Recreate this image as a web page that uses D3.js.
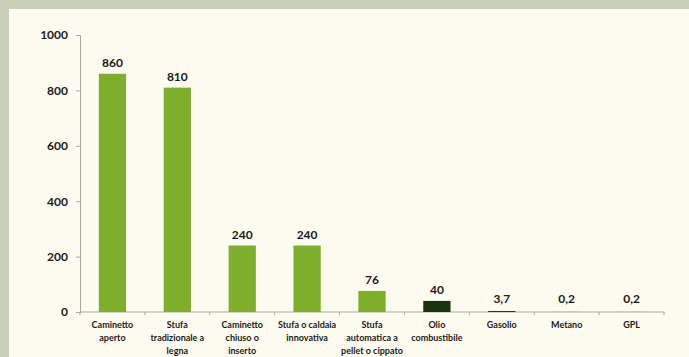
<!DOCTYPE html>
<html>
<head>
<meta charset="utf-8">
<script src="https://cdn.jsdelivr.net/npm/d3@7"></script>
<style>
  html, body { margin: 0; padding: 0; background: #c9d0b9; }
  svg { display: block; }
  text { font-family: Lato, "DejaVu Sans", sans-serif; }
</style>
</head>
<body>
<figure id="chart" style="margin:0"></figure>
<script>
// data
const categories = [
  ["Caminetto", "aperto"],
  ["Stufa", "tradizionale a", "legna"],
  ["Caminetto", "chiuso o", "inserto"],
  ["Stufa o caldaia", "innovativa"],
  ["Stufa", "automatica a", "pellet o cippato"],
  ["Olio", "combustibile"],
  ["Gasolio"],
  ["Metano"],
  ["GPL"]
];
const values = [860, 810, 240, 240, 76, 40, 3.7, 0.2, 0.2];
const valueLabels = ["860", "810", "240", "240", "76", "40", "3,7", "0,2", "0,2"];
const barColors = ["#7fae2c", "#7fae2c", "#7fae2c", "#7fae2c", "#7fae2c", "#1b3311", "#2a3a1c", "#2a3a1c", "#2a3a1c"];
const yTicks = [0, 200, 400, 600, 800, 1000];

const W = 689, H = 357;
const plotLeft = 80, plotRight = 664, plotTop = 35, plotBottom = 312;

const svg = d3.select("#chart")
  .append("svg")
  .attr("width", W)
  .attr("height", H);

// panel background (border shows round top/left)
svg.append("rect")
  .attr("x", 9).attr("y", 9)
  .attr("width", W - 9).attr("height", H - 9)
  .attr("fill", "#fdfbef");

const idx = values.map((d, i) => i);

const x = d3.scaleBand()
  .domain(idx)
  .range([plotLeft, plotRight])
  .paddingInner(0.58)
  .paddingOuter(0.29);

const y = d3.scaleLinear()
  .domain([0, 1000])
  .range([plotBottom, plotTop]);

// y axis
const yAxis = svg.append("g")
  .attr("transform", "translate(" + plotLeft + ",0)")
  .call(d3.axisLeft(y).tickValues(yTicks).tickFormat(d3.format("d")).tickSize(4).tickPadding(8));
yAxis.select(".domain").attr("stroke", "#a9a9a0");
yAxis.selectAll(".tick line").attr("stroke", "#a9a9a0");
yAxis.selectAll("text")
  .attr("fill", "#1a1a1a")
  .style("font-size", "12px")
  .style("font-weight", "bold");

// x axis: ticks at category boundaries
const bounds = d3.range(values.length + 1).map(i => plotLeft + i * x.step());
svg.append("line")
  .attr("x1", plotLeft).attr("x2", plotRight)
  .attr("y1", plotBottom).attr("y2", plotBottom)
  .attr("stroke", "#a9a9a0");
svg.selectAll(".xtick")
  .data(bounds)
  .enter()
  .append("line")
  .attr("x1", d => d).attr("x2", d => d)
  .attr("y1", plotBottom).attr("y2", plotBottom + 3)
  .attr("stroke", "#a9a9a0");

// bars
svg.selectAll(".bar")
  .data(values)
  .enter()
  .append("rect")
  .attr("x", (d, i) => x(i))
  .attr("y", d => y(d))
  .attr("width", x.bandwidth())
  .attr("height", d => Math.max(plotBottom - y(d), 0))
  .attr("fill", (d, i) => barColors[i]);

// value labels
svg.selectAll(".val")
  .data(values)
  .enter()
  .append("text")
  .attr("x", (d, i) => x(i) + x.bandwidth() / 2)
  .attr("y", d => Math.min(y(d), plotBottom - 2) - 7)
  .attr("text-anchor", "middle")
  .attr("fill", "#1a1a1a")
  .style("font-size", "12px")
  .style("font-weight", "bold")
  .text((d, i) => valueLabels[i]);

// category labels
const cat = svg.selectAll(".cat")
  .data(categories)
  .enter()
  .append("text")
  .attr("text-anchor", "middle")
  .attr("fill", "#1a1a1a")
  .style("font-size", "9px")
  .style("font-weight", "bold");
cat.selectAll("tspan")
  .data((d, i) => d.map(t => ({ t, i })))
  .enter()
  .append("tspan")
  .attr("x", d => x(d.i) + x.bandwidth() / 2)
  .attr("y", (d, j) => 328 + j * 13)
  .text(d => d.t);
</script>
</body>
</html>
